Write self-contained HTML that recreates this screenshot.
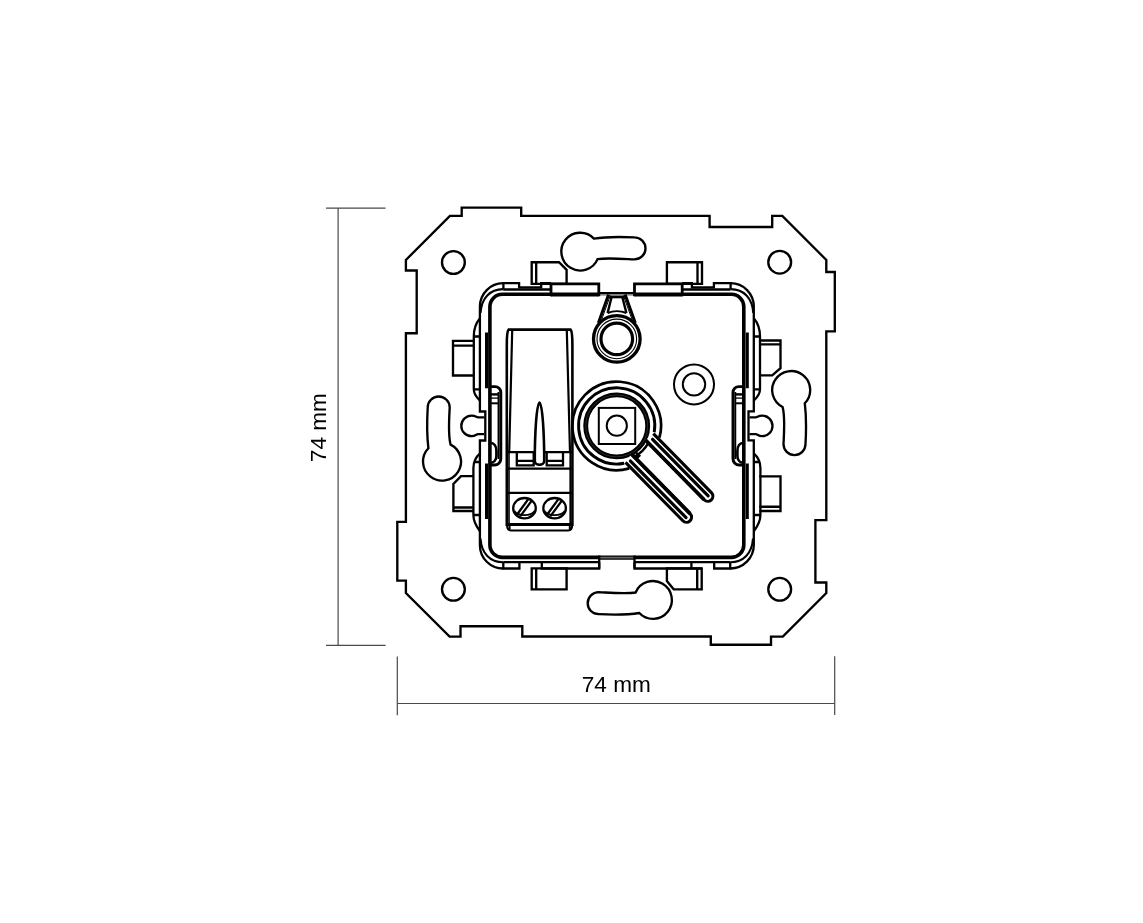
<!DOCTYPE html>
<html><head><meta charset="utf-8">
<style>
html,body{margin:0;padding:0;background:#fff;}
body{width:1143px;height:923px;overflow:hidden;position:relative;}
svg{position:absolute;left:0;top:0;}
svg{will-change:transform;}
</style></head><body>
<svg width="1143" height="923" viewBox="0 0 1143 923">
<g fill="none" stroke="#4a4a4a" stroke-width="1.2">
<path d="M326 208.2H385.6M338.1 208.2V645.4M326 645.4H385.6"/>
<path d="M397.3 656.4V715.3M834.7 656.3V715.1M397.3 703.5H834.7"/>
</g>
<text x="616.3" y="692.3" font-family="Liberation Sans, sans-serif" font-size="22.6" text-anchor="middle" fill="#000" opacity="0.999">74 mm</text>
<text transform="translate(326.4 427.6) rotate(-90)" x="0" y="0" font-family="Liberation Sans, sans-serif" font-size="22.6" text-anchor="middle" fill="#000" opacity="0.999">74 mm</text>

<g fill="none" stroke="#000" stroke-width="2.35" stroke-linejoin="miter">
<!-- outer plate -->
<path id="plate" d="M461.7 207.6H521.2V215.9H709.6V227H772.2V215.9H782.3L826.3 259.9V272H834.8V331.3H826.3V520.1H815.4V582.5H826.3V593.1L782.8 636.6H771V644.7H710.8V636.5H522.3V626.2H460.5V636.6H449.6L405.9 593.1V580.6H397.3V521.9H405.9V333.2H416.7V270.5H405.9V259.9L449.9 215.9H461.7Z"/>
<!-- corner holes -->
<circle cx="453.4" cy="262.5" r="11.4"/>
<circle cx="779.7" cy="262.2" r="11.4"/>
<circle cx="453.4" cy="589.3" r="11.4"/>
<circle cx="779.7" cy="589.3" r="11.4"/>
<!-- keyholes -->
<path id="khT" d="M593.9 238.6C605 236.8 622 236.8 634.5 237.4A11 11 0 0 1 634.5 259.4C622 258.8 607 257.6 597.6 259.1A18.9 18.9 0 1 1 593.9 238.6Z"/>
<path id="khL" d="M428.4 448.3C427 437 427 420 427.7 407.5A11 11 0 0 1 449.7 407.5C449.1 420 447.9 435 450.6 444.6A19 19 0 1 1 428.4 448.3Z"/>
<use href="#khT" transform="rotate(180 616.6 425.8)"/>
<use href="#khL" transform="rotate(180 616.6 425.8)"/>
<!-- tab rects -->
<path d="M531.7 283.8V262.2H559L566.6 269.8V283.8ZM536.2 262.2V283.8"/>
<path d="M666.9 283.8V262.2H702V283.8ZM697.5 262.2V283.8"/>
<path d="M531.7 568.3V589.3H566.6V568.3ZM536.2 568.3V589.3"/>
<path d="M666.9 568.3V581L673.7 589.3H701.7V568.3ZM697.2 568.3V589.3"/>
<path d="M474 340.8H453V375.5H474M453 345.6H474"/>
<path d="M474 476.1H461L453.4 484V511H474M453.4 507.5H474"/>
<path d="M759.3 340.5H780.5V368.2L772.2 375.4H759.3M759.3 344.3H780.5"/>
<path d="M759.3 476.4H780.5V511H759.3M759.3 506.7H780.5"/>
</g>

<!-- frame -->
<g fill="none" stroke="#000" stroke-width="2.3">
<!-- outer frame corners and sides -->
<path d="M503.2 283.2A23.4 23.4 0 0 0 479.9 306.6V411.5H485.3V440.5H479.9V545.2A23.3 23.3 0 0 0 503.3 568.5"/>
<path d="M730.6 283.2A23.2 23.2 0 0 1 753.8 306.6V411.4H748.5V440.4H753.8V545A23.5 23.5 0 0 1 730.2 568.5"/>
<!-- top edge pieces -->
<path d="M503.4 289.1V283.2H519.1V287.4H541.2V283.2H551M682.2 283.2H691.9V287.4H713.9V283.2H730.6V289.1"/><path d="M551 296.2V283.9H598.8V296.2M634.5 296.2V283.9H682.2V296.2" stroke-width="2.8"/><path d="M551 295.3H598.8M634.5 295.3H682.2" stroke-width="2.4"/><path d="M598.8 293H634.5" stroke-width="2.2"/><path d="M598.8 294.9H634.5" stroke-width="0.8"/>
<path d="M503.2 289.4H551M682.2 289.4H730.6" stroke-width="2.5"/>
<path d="M503.2 289.1C490 289.1 481.5 298 480.5 313" stroke-width="2.1"/>
<path d="M730.6 289.1C743.8 289.1 752.3 298 753.3 313" stroke-width="2.1"/>
<!-- bottom edge pieces -->
<path d="M503.3 562.2V568.5H519.4V562.2M541.8 562.2V568.5H599.2V562.2M634.5 562.2V568.5H701.7M691.4 562.2V568.5M714.2 562.2V568.5H730.2V562.2"/>
<path d="M503.3 562.2H599.2M634.5 562.2H730.2"/>
<path d="M503.3 562.2C490 562.2 481.5 553.5 480.5 538.5" stroke-width="2.1"/>
<path d="M730.2 562.2C743.5 562.2 752 553.5 753 538.5" stroke-width="2.1"/>
<path d="M599.2 557.6H634.5" stroke="#000" stroke-width="4.2"/><path d="M600 557.6H633.7" stroke="#666" stroke-width="1.6"/><path d="M599.2 555.5V568.5M634.5 555.5V568.5"/>
<!-- inner thick frame -->
<path d="M599.2 557.4H502.3A12.4 12.4 0 0 1 489.9 545V306.7A12.4 12.4 0 0 1 502.3 294.3H598.8M634.5 294.3H731.4A12.4 12.4 0 0 1 743.8 306.7V545A12.4 12.4 0 0 1 731.4 557.4H634.5" stroke-width="3.6"/>
</g>

<!-- side latches (left, and rotated copy for right) -->
<g id="latchL" fill="none" stroke="#000" stroke-width="2.3">
<path d="M479.8 318.5C476 323 473.8 329 473.8 336.5V389.3C473.8 393.5 476 397 479.8 400.3M473.8 336.5H479.9M473.8 389.3H479.9"/>
<path d="M479.8 453.7C476 457 473.4 462 473.4 468V515C473.4 521 476 526 479.8 531M473.4 462H479.9M473.4 515H479.9" />
<path d="M484.3 417.3H478C476.5 417.3 475.5 415.6 471.6 415.6A10.3 10.3 0 0 0 471.6 436.2C475.5 436.2 476.5 434.1 478 434.1H484.3"/>
<path d="M486.5 332.6V388.3M486.5 463.5V519" stroke-width="3"/>
<path d="M489.8 386.6H495A5.8 5.8 0 0 1 500.8 392.4V458.8A6.2 6.2 0 0 1 494.6 465H489.8" stroke-width="2.9"/>
<path d="M498.5 392V459" stroke-width="1.9"/>
<path d="M490 394.4H498.5" stroke-width="2.4"/>
<path d="M490 398.1H498.5" stroke-width="1.3"/><path d="M490 403.3H498.5" stroke-width="2"/>
<path d="M490 442.8C494 442.8 496.4 446 496.4 450.9V456C496.4 460 494 462.8 490 462.8" stroke-width="2.6"/>
</g>
<use href="#latchL" transform="translate(1233.8 0) scale(-1 1)"/>

<!-- terminal block -->
<g fill="none" stroke="#000" stroke-width="2.3">
<path d="M506.8 526V345C506.8 336 507.2 331 508.6 329.6H570.6C572 331 572.4 336 572.4 345V526" stroke-width="2.6"/>
<path d="M512.2 330.5L509.2 452.2M566.8 330.5L570 452.2" stroke-width="2.2"/><path d="M509 452.2V524M570.2 452.2V524" stroke-width="1.6"/>
<path d="M507.1 452.2H572.1M507.1 468.7H572.1M507.1 492.8H572.1"/>
<path d="M516.8 452.2V465.4H533.7V452.2M516.8 460.9H533.7M546.7 452.2V465.4H563V452.2M546.7 460.9H563"/>
<path d="M539.5 402.5C541.6 402.5 543.6 420 544.2 452V461C544.2 463.3 542 464.8 539.5 464.8C537 464.8 534.8 463.3 534.8 461V452C535.4 420 537.4 402.5 539.5 402.5Z" fill="#fff" stroke-width="2.6"/>
<path d="M507.1 524.4H572.1" stroke-width="3"/>
<path d="M507.1 526C507.1 528.5 508.5 530.4 511 530.4H568.2C570.7 530.4 572.1 528.5 572.1 526M509.6 524.4V530.4M569.8 524.4V530.4" stroke-width="2"/>
<ellipse cx="524.5" cy="508.2" rx="11.3" ry="10.2" stroke-width="2.3"/>
<ellipse cx="554.6" cy="508.2" rx="11.3" ry="10.2" stroke-width="2.3"/>
<path d="M514.4 511C516.5 514 520 515.2 524.5 515.2C529 515.2 532.5 514 534.6 511M544.5 511C546.6 514 550.1 515.2 554.6 515.2C559.1 515.2 562.6 514 564.7 511" stroke-width="1.8"/>
<path d="M517.1 514.5L528.3 499.1M520.2 516.4L531.6 500.9M547.2 514.5L558.4 499.1M550.3 516.4L561.7 500.9" stroke-width="2.3"/>
</g>

<!-- LED lens -->
<g fill="none" stroke="#000">
<path d="M608.6 294.5L598.4 323M625.1 294.5L635.3 323" stroke-width="3"/>
<path d="M611.6 297L607.6 313M622.3 297L626.4 313" stroke-width="2.4"/>
<path d="M610.3 295.5L601.5 320M623.4 295.5L632.2 320" stroke-width="1"/>
<path d="M607.6 313C613 310.6 620.8 310.6 626.4 313" stroke-width="2"/>
<path d="M609.4 297H624.8" stroke-width="2.6"/>
<circle cx="616.8" cy="338.9" r="23.3" fill="#fff" stroke-width="3.3"/>
<circle cx="616.8" cy="338.9" r="19.8" stroke-width="1.1"/>
<circle cx="616.8" cy="338.9" r="15.8" stroke-width="3.2"/>
<circle cx="694" cy="384.4" r="20" stroke-width="2"/>
<circle cx="694" cy="384.4" r="11.2" stroke-width="2"/>
</g>

<!-- knob -->
<g fill="none" stroke="#000" transform="translate(616.7 425.9) rotate(45.5)">
<path d="M39.1 20.84A44.3 44.3 0 1 1 38.3 -22.26" stroke-width="2.7"/>
<path d="M31.9 20.84A38.1 38.1 0 1 1 30.9 -22.26" stroke-width="2.9"/>
<circle r="31" stroke-width="4.9"/>
<circle r="31" stroke="#666" stroke-width="0.4"/>
</g>
<g fill="none" stroke="#000" transform="translate(617.7 425.9) rotate(45.5)">
<path d="M33.6 -10A35 35 0 0 1 33.6 10M31.5 5.5H36.5V12" stroke-width="2.4"/>
<path d="M30.5 -20H113.3A5.05 5.05 0 0 1 113.3 -9.9H29.5" stroke-width="3.1" fill="#fff"/>
<path d="M29.5 -9.9H40" stroke-width="3.7"/>
<path d="M40 -9.9H113.3" stroke-width="3.7"/>
<path d="M34 -15.5H113.3" stroke-width="3.2" stroke-linecap="round"/>
<path d="M31.5 20H113.3A5.05 5.05 0 0 0 113.3 9.9H29.5" stroke-width="3.1" fill="#fff"/>
<path d="M29.5 9.9H113.3" stroke-width="3.7"/>
<path d="M34 15.5H113.3" stroke-width="3.2" stroke-linecap="round"/>
</g>
<g fill="none" stroke="#000">
<rect x="598.8" y="407.9" width="36.4" height="36.1" stroke-width="2"/>
<circle cx="616.8" cy="425.7" r="10.1" stroke-width="2"/>
</g>
</svg>
</body></html>
